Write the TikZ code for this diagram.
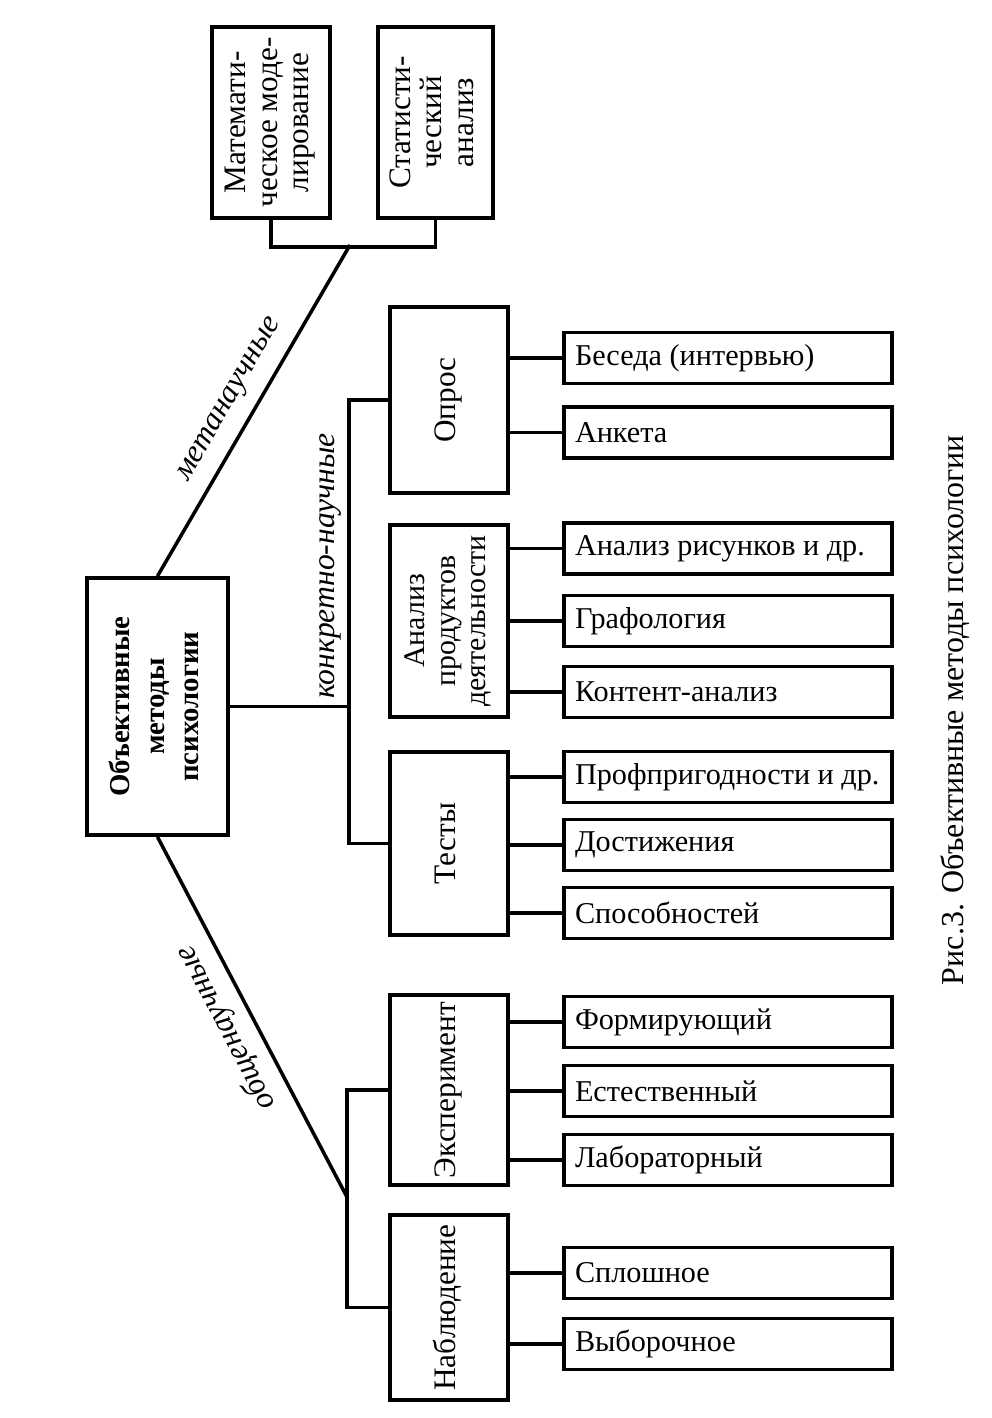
\documentclass[tikz,border=0pt]{standalone}
\usepackage{fontspec}
\setmainfont{Liberation Serif}
\usepackage{graphicx}
\newcommand{\vtext}[1]{\rotatebox{90}{\begin{tabular}{@{}c@{}}#1\end{tabular}}}
\newcommand{\ltext}[1]{\makebox[30.6mm][l]{#1}}

\begin{document}
\begin{tikzpicture}[x=0.1mm, y=-0.1mm, line width=1pt,
    every node/.style={font=\fontsize{8.9}{9}\selectfont},
    box/.style={draw, line width=1.1pt, inner sep=0pt},
    grp/.style={box, minimum width=11.8mm},
    kid/.style={box, minimum width=32.8mm, minimum height=5.1mm, font=\fontsize{8.6}{9}\selectfont},
    lbl/.style={font=\fontsize{9}{9}\selectfont\itshape, inner sep=0pt}]
  \useasboundingbox (0,0) rectangle (992,1418);
  % root
  \node[box, minimum width=14.1mm, minimum height=25.7mm, font=\fontsize{8.2}{9.8}\selectfont\bfseries] (obj) at (157.5,706.5) {\vtext{Объективные\\методы\\психологии}};
  % metascientific
  \node[box, minimum width=11.8mm, minimum height=19.1mm] (mat) at (271,122.5) {\vtext{Математи-\\ческое моде-\\лирование}};
  \node[box, minimum width=11.5mm, minimum height=19.1mm] (stat) at (435.5,122.5) {\vtext{Статисти-\\ческий\\анализ}};
  % concrete
  \node[grp, minimum height=18.6mm] (opros) at (449,400) {\vtext{Опрос}};
  \node[grp, minimum height=19.2mm, font=\fontsize{8.5}{8.6}\selectfont] (anal) at (449,621) {\vtext{Анализ\\продуктов\\деятельности}};
  \node[grp, minimum height=18.3mm] (test) at (449,843.5) {\vtext{Тесты}};
  % general
  \node[grp, minimum height=19mm] (exp) at (449,1090) {\vtext{Эксперимент}};
  \node[grp, minimum height=18.5mm] (nabl) at (449,1307.5) {\vtext{Наблюдение}};
  % leaves
  \node[kid] (bes) at (728,358) {\ltext{Беседа (интервью)}};
  \node[kid] (ank) at (728,432.5) {\ltext{Анкета}};
  \node[kid] (ris) at (728,548.5) {\ltext{Анализ рисунков и др.}};
  \node[kid] (graf) at (728,621) {\ltext{Графология}};
  \node[kid] (kont) at (728,692) {\ltext{Контент-анализ}};
  \node[kid] (prof) at (728,777) {\ltext{Профпригодности и др.}};
  \node[kid] (dost) at (728,845) {\ltext{Достижения}};
  \node[kid] (spos) at (728,913) {\ltext{Способностей}};
  \node[kid] (form) at (728,1022) {\ltext{Формирующий}};
  \node[kid] (estv) at (728,1091) {\ltext{Естественный}};
  \node[kid] (lab) at (728,1160) {\ltext{Лабораторный}};
  \node[kid] (spl) at (728,1273) {\ltext{Сплошное}};
  \node[kid] (vyb) at (728,1344) {\ltext{Выборочное}};
  % labels
  \node[lbl, rotate=60] (lmeta) at (231,400) {метанаучные};
  \node[lbl, rotate=90] (lkonk) at (330,566) {конкретно-научные};
  \node[lbl, rotate=117.7] (lobsh) at (226,1028) {общенаучные};
  \node[rotate=90, font=\fontsize{9.1}{10}\selectfont] (cap) at (955,710) {Рис.3. Объективные методы психологии};
  \coordinate (brk) at (350,245);
  \coordinate (kn) at (349,706.5);
  \coordinate (obn) at (347,1197);
  \draw (mat.south) -- ++(0,27) -| (stat.south);
  \draw (obj.north) -- (brk);
  \draw (obj.east) -- (kn);
  \draw (opros.west) -| (kn) |- (test.west);
  \draw (obj.south) -- (obn);
  \draw (exp.west) -| (obn) |- (nabl.west);
  \draw (opros.east |- bes) -- (bes.west);
  \draw (opros.east |- ank) -- (ank.west);
  \draw (anal.east |- ris) -- (ris.west);
  \draw (anal.east |- graf) -- (graf.west);
  \draw (anal.east |- kont) -- (kont.west);
  \draw (test.east |- prof) -- (prof.west);
  \draw (test.east |- dost) -- (dost.west);
  \draw (test.east |- spos) -- (spos.west);
  \draw (exp.east |- form) -- (form.west);
  \draw (exp.east |- estv) -- (estv.west);
  \draw (exp.east |- lab) -- (lab.west);
  \draw (nabl.east |- spl) -- (spl.west);
  \draw (nabl.east |- vyb) -- (vyb.west);
\end{tikzpicture}
\end{document}
